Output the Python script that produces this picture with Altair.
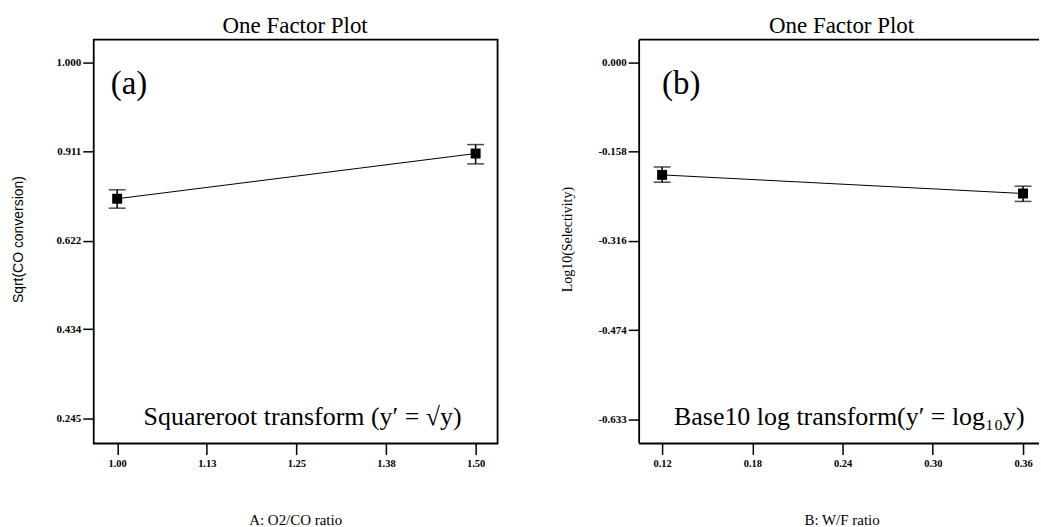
import altair as alt
import pandas as pd

# ---------------- Panel (a) ----------------
a_x = [1.00, 1.50]
a_y = [0.711, 0.807]
a_lo = [0.691, 0.785]
a_hi = [0.730, 0.826]
a_xticks = [1.0, 1.125, 1.25, 1.375, 1.5]
a_xlabels = ["1.00", "1.13", "1.25", "1.38", "1.50"]
a_yticks = [1.000, 0.811, 0.622, 0.434, 0.245]
a_ylabels = ["1.000", "0.911", "0.622", "0.434", "0.245"]

# ---------------- Panel (b) ----------------
b_x = [0.12, 0.36]
b_y = [-0.199, -0.232]
b_lo = [-0.212, -0.246]
b_hi = [-0.185, -0.219]
b_xticks = [0.12, 0.18, 0.24, 0.30, 0.36]
b_xlabels = ["0.12", "0.18", "0.24", "0.30", "0.36"]
b_yticks = [0.000, -0.158, -0.316, -0.474, -0.633]
b_ylabels = ["0.000", "-0.158", "-0.316", "-0.474", "-0.633"]

panel_title = "One Factor Plot"

SERIF = "Liberation Serif"
SANS = "Liberation Sans"
PLOT_H = 405
FRAME_W = 1.8


def label_expr(vals, labels):
    expr = "''"
    for v, l in reversed(list(zip(vals, labels))):
        expr = f"abs(datum.value - ({v})) < 1e-9 ? '{l}' : (" + expr + ")"
    return expr


def panel(xs, ys, lo, hi, xdom, ydom, xt, xl, yt, yl, xtitle, ytitle,
          ytitle_font, ytitle_x, tag, tag_x, note, note_x, width, center_x,
          spacer=False, open_right=False):
    df = pd.DataFrame({"x": xs, "y": ys, "lo": lo, "hi": hi})
    xaxis = alt.Axis(values=xt, labelExpr=label_expr(xt, xl), title=xtitle,
                     titleX=center_x, titleY=76,
                     titleAlign="center", titleBaseline="middle",
                     titleFont=SERIF, titleFontSize=15, titleFontWeight="normal",
                     labelPadding=4, labelFontSize=10.5)
    yaxis = alt.Axis(values=yt, labelExpr=label_expr(yt, yl), title=ytitle,
                     titleX=ytitle_x, titleY=200, titleAngle=270,
                     titleAlign="center", titleBaseline="middle",
                     titleFont=ytitle_font, titleFontSize=14, titleFontWeight="normal",
                     labelPadding=2, labelFontSize=11)
    xs_ = alt.Scale(domain=xdom, nice=False, zero=False)
    ys_ = alt.Scale(domain=ydom, nice=False, zero=False)
    X = alt.X("x:Q", scale=xs_, axis=xaxis)
    base = alt.Chart(df)
    line = base.mark_line(color="black", strokeWidth=1).encode(
        x=X, y=alt.Y("y:Q", scale=ys_, axis=yaxis))
    rule = base.mark_rule(color="black", strokeWidth=1.5).encode(
        x=X, y=alt.Y("lo:Q", scale=ys_, axis=yaxis), y2="hi:Q")
    cap_lo = base.mark_tick(orient="horizontal", size=17, thickness=1.5, color="black").encode(
        x=X, y=alt.Y("lo:Q", scale=ys_, axis=yaxis))
    cap_hi = base.mark_tick(orient="horizontal", size=17, thickness=1.5, color="black").encode(
        x=X, y=alt.Y("hi:Q", scale=ys_, axis=yaxis))
    sq = base.mark_square(size=100, color="black", opacity=1).encode(
        x=X, y=alt.Y("y:Q", scale=ys_, axis=yaxis))
    one = pd.DataFrame({"t": [0]})
    title_t = alt.Chart(pd.DataFrame({"t": [panel_title]})).mark_text(
        font=SERIF, fontSize=23, align="center", baseline="alphabetic", color="black"
    ).encode(x=alt.value(center_x), y=alt.value(-7), text="t:N")
    tag_t = alt.Chart(pd.DataFrame({"t": [tag]})).mark_text(
        font=SERIF, fontSize=33, align="left", baseline="middle", color="black"
    ).encode(x=alt.value(tag_x), y=alt.value(45), text="t:N")
    note_t = alt.Chart(pd.DataFrame({"t": [note]})).mark_text(
        font=SERIF, fontSize=26, align="left", baseline="middle", color="black"
    ).encode(x=alt.value(note_x), y=alt.value(378), text="t:N")
    layers = [line, rule, cap_lo, cap_hi, sq, title_t, tag_t, note_t]
    if open_right:
        # frame drawn on three sides only (right side is cut off in the source)
        fr = alt.Chart(one).mark_rule(color="black", strokeWidth=FRAME_W)
        layers += [
            fr.encode(x=alt.value(0), x2=alt.value(width), y=alt.value(0)),
            fr.encode(x=alt.value(0), y=alt.value(0), y2=alt.value(PLOT_H)),
            fr.encode(x=alt.value(0), x2=alt.value(width), y=alt.value(PLOT_H)),
        ]
    if spacer:
        sp = alt.Chart(one).mark_rule(color="white", strokeWidth=1).encode(
            x=alt.value(-92.5), y=alt.value(-37), y2=alt.value(490))
        layers.append(sp)
    props = dict(width=width, height=PLOT_H)
    if open_right:
        props["view"] = alt.ViewBackground(stroke="transparent")
    return alt.layer(*layers).properties(**props)


left = panel(a_x, a_y, a_lo, a_hi, [0.9673, 1.5306], [0.1915, 1.0487],
             a_xticks, a_xlabels, a_yticks, a_ylabels,
             "A: O2/CO ratio", "Sqrt(CO conversion)", SANS, -75,
             "(a)", 17, "Squareroot transform (y\u2032 = \u221ay)", 50, 405, 202, spacer=True)
right = panel(b_x, b_y, b_lo, b_hi, [0.10475, 0.37061], [-0.6749, 0.0406],
              b_xticks, b_xlabels, b_yticks, b_ylabels,
              "B: W/F ratio", "Log10(Selectivity)", SERIF, -72,
              "(b)", 23, "Base10 log transform(y\u2032 = log\u2081\u2080y)", 35, 401, 203,
              open_right=True)

chart = alt.hconcat(left, right, spacing=142, bounds="flush").properties(
    padding=0
).configure_view(
    stroke="black", strokeWidth=FRAME_W
).configure_axis(
    domain=False, grid=False, tickColor="black", tickSize=11, tickWidth=1.5,
    labelFont=SERIF, labelFontWeight="bold", labelColor="black",
    titleColor="black"
)

chart.save("out.html", embed_options={"renderer": "svg", "actions": False})
